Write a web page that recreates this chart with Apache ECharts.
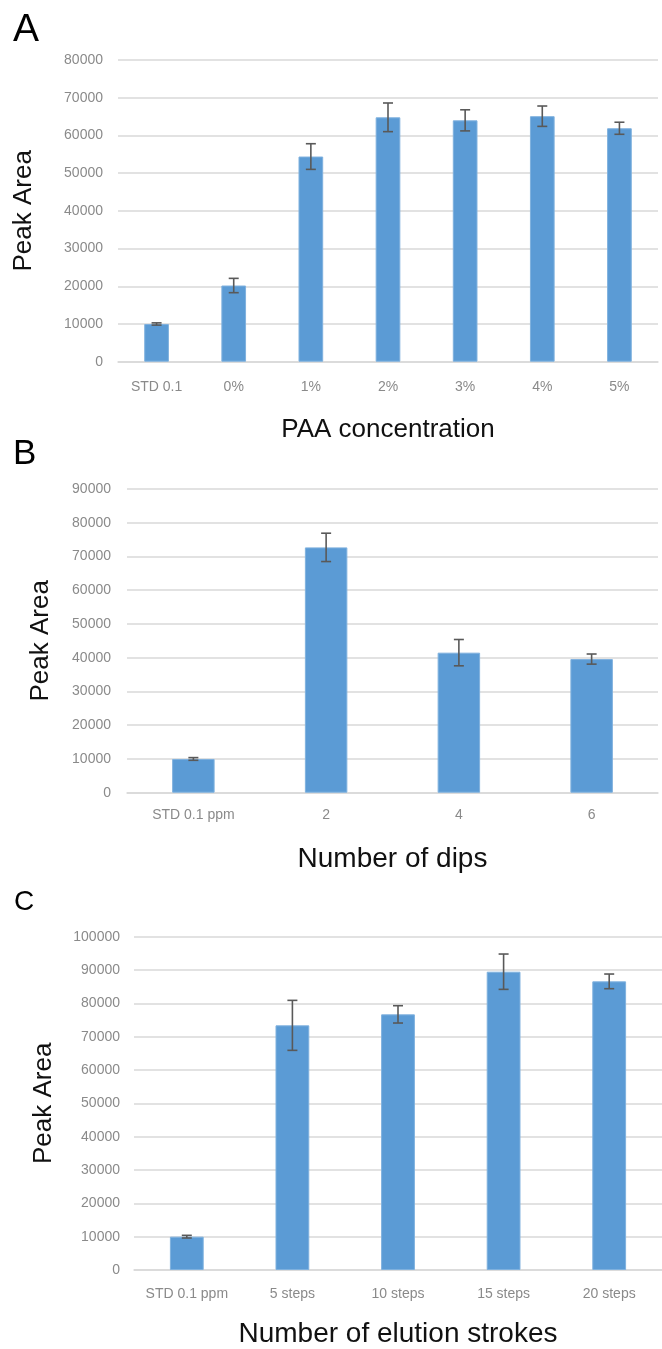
<!DOCTYPE html>
<html>
<head>
<meta charset="utf-8">
<script src="https://cdn.jsdelivr.net/npm/echarts@6/dist/echarts.min.js"></script>
<style>
html,body{margin:0;padding:0;background:#fff;}
#chart{width:662px;height:1349px;}
</style>
</head>
<body>
<div id="chart"></div>
<script>
// Panel A
const catsA = ['STD 0.1', '0%', '1%', '2%', '3%', '4%', '5%'];
const valsA = [10000, 20200, 54400, 64800, 64000, 65100, 61900];
const errA = [300, 1900, 3400, 3800, 2800, 2700, 1600];
// Panel B
const catsB = ['STD 0.1 ppm', '2', '4', '6'];
const valsB = [10000, 72700, 41500, 39600];
const errB = [400, 4200, 3900, 1500];
// Panel C
const catsC = ['STD 0.1 ppm', '5 steps', '10 steps', '15 steps', '20 steps'];
const valsC = [10000, 73400, 76700, 89500, 86600];
const errC = [400, 7500, 2600, 5300, 2200];

const panelLetters = ['A', 'B', 'C'];
const xTitles = ['PAA concentration', 'Number of dips', 'Number of elution strokes'];
const yTitle = 'Peak Area';

const FONT = '"Liberation Sans", Arial, sans-serif';
const BAR = '#5b9bd5';
const GRID = '#d9d9d9';
const LABEL = '#8a8a8a';
const ERR = '#595959';

const chart = echarts.init(document.getElementById('chart'), null, {renderer: 'canvas'});

function errData(vals, errs) {
  return vals.map((v, i) => [i, v - errs[i], v + errs[i]]);
}

function errSeries(idx, vals, errs) {
  return {
    type: 'custom',
    xAxisIndex: idx, yAxisIndex: idx,
    data: errData(vals, errs),
    z: 5,
    renderItem: function (params, api) {
      const x = api.value(0);
      const lo = api.coord([x, api.value(1)]);
      const hi = api.coord([x, api.value(2)]);
      const cap = 5;
      const st = {stroke: ERR, lineWidth: 1.6};
      return {
        type: 'group',
        children: [
          {type: 'line', shape: {x1: hi[0], y1: hi[1], x2: lo[0], y2: lo[1]}, style: st},
          {type: 'line', shape: {x1: hi[0] - cap, y1: hi[1], x2: hi[0] + cap, y2: hi[1]}, style: st},
          {type: 'line', shape: {x1: lo[0] - cap, y1: lo[1], x2: lo[0] + cap, y2: lo[1]}, style: st}
        ]
      };
    }
  };
}

const grids = [
  {left: 118, right: 4, top: 60, height: 301.7},
  {left: 127, right: 4, top: 489, height: 303.7},
  {left: 134, right: 0, top: 936.7, height: 336}
];
const yMax = [80000, 90000, 100000];
const cats = [catsA, catsB, catsC];
const vals = [valsA, valsB, valsC];
const errs = [errA, errB, errC];
const xNameGap = [55, 53, 50];
const xNameSize = [26, 28, 28];
const xLabelMargin = [18, 15, 17];
const yNameGap = [81, 73, 77];
const yLabelMargin = [15, 16, 14];

const option = {
  animation: false,
  backgroundColor: '#ffffff',
  grid: grids,
  xAxis: cats.map((c, i) => ({
    type: 'category',
    gridIndex: i,
    data: c,
    axisLine: {show: true, lineStyle: {color: GRID, width: 1.5}},
    axisTick: {show: false},
    axisLabel: {color: LABEL, fontSize: 14, fontFamily: FONT, margin: xLabelMargin[i], interval: 0},
    name: xTitles[i],
    nameLocation: 'middle',
    nameGap: xNameGap[i],
    nameTextStyle: {color: '#111', fontSize: xNameSize[i], fontFamily: FONT}
  })),
  yAxis: cats.map((c, i) => ({
    type: 'value',
    gridIndex: i,
    min: 0,
    max: yMax[i],
    interval: 10000,
    axisLine: {show: false},
    axisTick: {show: false},
    splitLine: {show: true, lineStyle: {color: GRID, width: 1.5}},
    axisLabel: {color: LABEL, fontSize: 14, fontFamily: FONT, margin: yLabelMargin[i],
      formatter: function (v) { return String(v); }},
    name: yTitle,
    nameLocation: 'middle',
    nameGap: yNameGap[i],
    nameTextStyle: {color: '#111', fontSize: 26, fontFamily: FONT}
  })),
  series: [
    ...vals.map((v, i) => ({
      type: 'bar',
      xAxisIndex: i, yAxisIndex: i,
      data: v,
      barWidth: '32%',
      itemStyle: {color: BAR, borderColor: '#7fb1de', borderWidth: 1}
    })),
    ...vals.map((v, i) => errSeries(i, v, errs[i]))
  ],
  graphic: [
    {type: 'text', left: 13, top: 11, style: {text: panelLetters[0], fontSize: 39, fontFamily: FONT, fill: '#000'}},
    {type: 'text', left: 13, top: 437, style: {text: panelLetters[1], fontSize: 35, fontFamily: FONT, fill: '#000'}},
    {type: 'text', left: 14, top: 888, style: {text: panelLetters[2], fontSize: 28, fontFamily: FONT, fill: '#000'}}
  ]
};
chart.setOption(option);
</script>
</body>
</html>
